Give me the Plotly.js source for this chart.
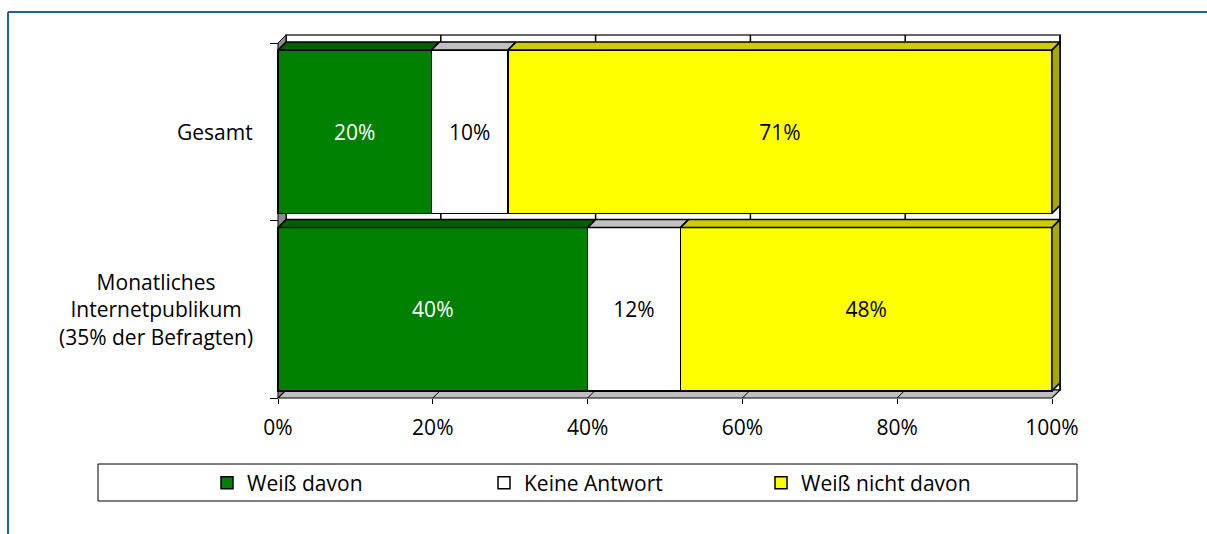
<!DOCTYPE html>
<html>
<head>
<meta charset="utf-8">
<script src="https://cdn.plot.ly/plotly-3.0.1.min.js"></script>
<style>
  html, body { margin: 0; padding: 0; background: #ffffff; }
  #chart { width: 1207px; height: 534px; }
</style>
</head>
<body>
<div id="chart"></div>
<script>
// ---------------- data ----------------
const categories = ["Gesamt", "Monatliches<br>Internetpublikum<br>(35% der Befragten)"];
const seriesNames = ["Weiß davon", "Keine Antwort", "Weiß nicht davon"];
const weissDavon = [20, 40];
const keineAntwort = [10, 12];
const weissNichtDavon = [71, 48];
const xTickVals = [0, 20, 40, 60, 80, 100];
const xTickText = ["0%", "20%", "40%", "60%", "80%", "100%"];

// ---------------- styling / geometry ----------------
const FONT = "Open Sans, Liberation Sans, sans-serif";
const FS = 21;
const frontColors = ["#008000", "#ffffff", "#ffff00"];
const topColors = ["#006000", "#c0c0c0", "#cccc00"];
const sideColor = "#a8a800";
const textColors = ["#ffffff", "#000000", "#000000"];

// pixel layout of the plot
const PX = { L: 274, R: 1064, T: 31, B: 402, x0: 278, x100: 1052, yTop: 43, yBot: 398 };
const kx = (PX.x100 - PX.x0) / 100;          // px per percent
const ky = (PX.yBot - PX.yTop) / 2;            // px per category
const DEPTH = 8;                                // 3D depth in px
const dx = DEPTH / kx, dy = DEPTH / ky;
const BARW = 0.92;

const xRange = [(PX.L - PX.x0) / kx, (PX.R - PX.x0) / kx];
const yRange = [-0.5 - (PX.B - PX.yBot) / ky, 1.5 + (PX.yTop - PX.T) / ky];
const paperX = px => (px - PX.L) / (PX.R - PX.L);
const paperY = py => (PX.B - py) / (PX.B - PX.T);

const series = [weissDavon, keineAntwort, weissNichtDavon];
const nCat = categories.length;
const pos = categories.map((c, i) => nCat - 1 - i);
const totals = categories.map((c, i) => series.reduce((s, arr) => s + arr[i], 0));
const norm = series.map(arr => arr.map((v, i) => v / totals[i] * 100));
const starts = series.map((arr, s) => arr.map((v, i) => {
  let acc = 0; for (let k = 0; k < s; k++) acc += norm[k][i]; return acc;
}));

const traces = [];
// front faces (bars)
series.forEach((arr, s) => {
  traces.push({
    type: "bar", orientation: "h",
    name: seriesNames[s],
    y: pos, x: norm[s], width: BARW,
    text: arr.map(v => v + "%"),
    textposition: "inside", insidetextanchor: "middle", textangle: 0,
    constraintext: "none",
    textfont: { family: FONT, size: FS, color: textColors[s] },
    marker: { color: frontColors[s], line: { color: "#000000", width: 1.5 } },
    hoverinfo: "skip"
  });
});
// top faces
series.forEach((arr, s) => {
  const xs = [], ys = [];
  arr.forEach((v, i) => {
    const x0 = starts[s][i], x1 = x0 + norm[s][i], yt = pos[i] + BARW / 2;
    xs.push(x0, x1, x1 + dx, x0 + dx, x0, null);
    ys.push(yt, yt, yt + dy, yt + dy, yt, null);
  });
  traces.push({
    type: "scatter", mode: "lines", x: xs, y: ys, fill: "toself",
    fillcolor: topColors[s], line: { color: "#000000", width: 1.5 },
    showlegend: false, hoverinfo: "skip"
  });
});
// right face of last segment
{
  const s = series.length - 1, xs = [], ys = [];
  series[s].forEach((v, i) => {
    const x1 = starts[s][i] + norm[s][i], yb = pos[i] - BARW / 2, yt = pos[i] + BARW / 2;
    xs.push(x1, x1, x1 + dx, x1 + dx, x1, null);
    ys.push(yb, yt, yt + dy, yb + dy, yb, null);
  });
  traces.push({
    type: "scatter", mode: "lines", x: xs, y: ys, fill: "toself",
    fillcolor: sideColor, line: { color: "#000000", width: 1.5 },
    showlegend: false, hoverinfo: "skip"
  });
}

// walls, floor, gridlines
const shapes = [];
shapes.push({ type: "rect", layer: "below", xref: "x", yref: "y",
  x0: dx, x1: 100 + dx, y0: -0.5 + dy, y1: 1.5 + dy,
  fillcolor: "#ffffff", line: { color: "#666666", width: 2 } });
xTickVals.forEach(v => {
  shapes.push({ type: "line", layer: "below", xref: "x", yref: "y",
    x0: v + dx, x1: v + dx, y0: -0.5 + dy, y1: 1.5 + dy,
    line: { color: "#000000", width: 1.5 } });
});
shapes.push({ type: "path", layer: "below", xref: "x", yref: "y",
  path: `M0,-0.5 L0,1.5 L${dx},${1.5 + dy} L${dx},${-0.5 + dy} Z`,
  fillcolor: "#8c8c8c", line: { color: "#000000", width: 1 } });
shapes.push({ type: "path", layer: "below", xref: "x", yref: "y",
  path: `M0,-0.5 L100,-0.5 L${100 + dx},${-0.5 + dy} L${dx},${-0.5 + dy} Z`,
  fillcolor: "#c0c0c0", line: { color: "#000000", width: 1.2 } });
xTickVals.forEach(v => {
  shapes.push({ type: "line", layer: "below", xref: "x", yref: "y",
    x0: v, x1: v + dx, y0: -0.5, y1: -0.5 + dy,
    line: { color: "#000000", width: 1 } });
});
// legend box
shapes.push({ type: "rect", xref: "paper", yref: "paper",
  x0: paperX(98), x1: paperX(1077), y0: paperY(501), y1: paperY(464),
  fillcolor: "rgba(0,0,0,0)", line: { color: "#000000", width: 1 } });
// outer blue frame
shapes.push({ type: "line", xref: "paper", yref: "paper",
  x0: paperX(8), x1: paperX(1207), y0: paperY(12), y1: paperY(12),
  line: { color: "#1f5fa3", width: 2 } });
shapes.push({ type: "line", xref: "paper", yref: "paper",
  x0: paperX(8), x1: paperX(8), y0: paperY(12), y1: paperY(534),
  line: { color: "#1f5fa3", width: 2 } });

const annotations = categories.map((c, i) => ({
  xref: "x", yref: "y", x: 0, y: pos[i], xanchor: "right", yanchor: "middle",
  xshift: -23, align: "center", showarrow: false, text: c,
  font: { family: FONT, size: FS, color: "#000000" }
}));

const layout = {
  width: 1207, height: 534,
  margin: { l: PX.L, r: 1207 - PX.R, t: PX.T, b: 534 - PX.B, pad: 0 },
  paper_bgcolor: "#ffffff", plot_bgcolor: "rgba(0,0,0,0)",
  barmode: "stack", bargap: 0,
  font: { family: FONT, size: FS, color: "#000000" },
  showlegend: true,
  legend: {
    orientation: "h", xref: "paper", x: paperX(207), xanchor: "left",
    yref: "paper", y: paperY(483), yanchor: "middle",
    font: { family: FONT, size: FS, color: "#000000" },
    entrywidth: 232, entrywidthmode: "pixels",
    bgcolor: "rgba(0,0,0,0)", borderwidth: 0, traceorder: "normal"
  },
  xaxis: {
    range: xRange, anchor: "free", position: paperY(PX.yBot),
    tickmode: "array", tickvals: xTickVals, ticktext: xTickText,
    ticks: "outside", ticklen: 5, tickcolor: "#000000", tickwidth: 1,
    ticklabelstandoff: 6,
    showgrid: false, zeroline: false, showline: false,
    tickfont: { family: FONT, size: FS, color: "#000000" },
    fixedrange: true
  },
  yaxis: {
    range: yRange, anchor: "free", position: paperX(PX.x0),
    tickmode: "array", tickvals: [-0.5, 0.5, 1.5], ticktext: ["", "", ""],
    ticks: "outside", ticklen: 8, tickcolor: "#000000", tickwidth: 1,
    showticklabels: false, showgrid: false, zeroline: false, showline: false,
    fixedrange: true
  },
  shapes: shapes,
  annotations: annotations
};

Plotly.newPlot("chart", traces, layout, { displayModeBar: false, staticPlot: true });
</script>
</body>
</html>
